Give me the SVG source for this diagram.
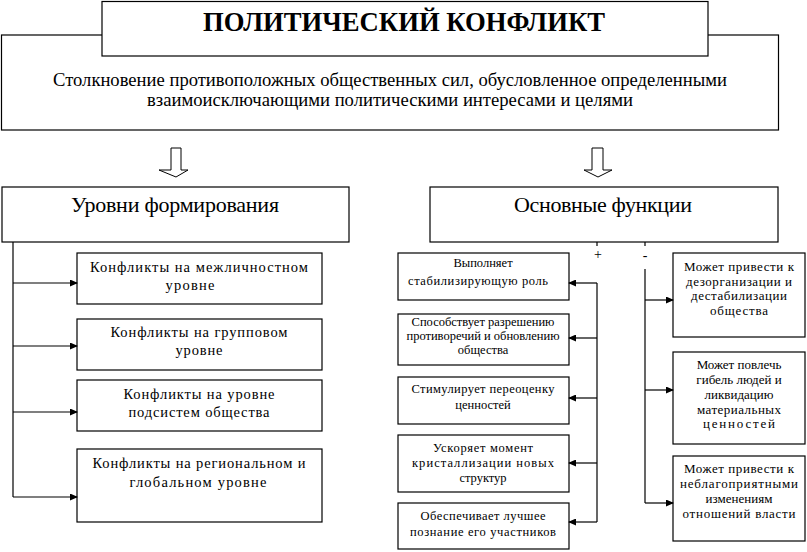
<svg xmlns="http://www.w3.org/2000/svg" width="807" height="552" viewBox="0 0 807 552">
<defs>
<style>
.box{fill:#fff;stroke:#000;stroke-width:1.2}
.t{font-family:"Liberation Serif","Times New Roman","DejaVu Serif",serif;fill:#000;text-anchor:middle}
.title{font-size:28px;font-weight:bold}
.desc{font-size:18px}
.hdr{font-size:22px}
.lv{font-size:14.5px}
.fn{font-size:12.5px}
.ng{font-size:13px}
.sg{font-size:14px}
.ln{fill:none;stroke:#000;stroke-width:1.2}
.blk{fill:#fff;stroke:#000;stroke-width:1}
</style>
<marker id="ah" markerWidth="8" markerHeight="7" refX="7" refY="3.5" orient="auto" markerUnits="userSpaceOnUse">
<path d="M0,0 L8,3.5 L0,7 Z" fill="#000"/>
</marker>
</defs>
<rect width="807" height="552" fill="#fff"/>

<g id="desc">
<rect class="box" x="1.5" y="35" width="777" height="95"/>
<text class="t desc" x="390" y="86" textLength="674" lengthAdjust="spacingAndGlyphs">Столкновение противоположных общественных сил, обусловленное определенными</text>
<text class="t desc" x="390" y="106" textLength="486" lengthAdjust="spacingAndGlyphs">взаимоисключающими политическими интересами и целями</text>
</g>
<g id="title">
<rect class="box" x="102" y="1.5" width="606" height="54.5"/>
<text class="t title" x="404" y="31" textLength="402" lengthAdjust="spacingAndGlyphs">ПОЛИТИЧЕСКИЙ КОНФЛИКТ</text>
</g>

<g id="arrow-left">
<path class="blk" d="M171,148 H181 V170 H188 L176,177 L159,170 H171 Z"/>
</g>
<g id="arrow-right">
<path class="blk" d="M592,148 H603 V170 H612 L598,177 L584,170 H592 Z"/>
</g>

<g id="levels">
<rect class="box" x="2" y="187" width="347" height="55"/>
<text class="t hdr" x="175" y="212" textLength="208">Уровни формирования</text>
</g>
<g id="functions">
<rect class="box" x="430" y="187" width="348" height="55"/>
<text class="t hdr" x="603" y="212" textLength="178">Основные функции</text>
</g>

<g id="lv1">
<rect class="box" x="77" y="253" width="245" height="51"/>
<text class="t lv" x="199" y="272" textLength="218">Конфликты на межличностном</text>
<text class="t lv" x="190" y="290" textLength="49">уровне</text>
</g>
<g id="lv2">
<rect class="box" x="77" y="319" width="245" height="51"/>
<text class="t lv" x="199" y="337" textLength="177">Конфликты на групповом</text>
<text class="t lv" x="199" y="355" textLength="47">уровне</text>
</g>
<g id="lv3">
<rect class="box" x="77" y="380" width="245" height="51"/>
<text class="t lv" x="199" y="399" textLength="151">Конфликты на уровне</text>
<text class="t lv" x="199" y="417" textLength="141">подсистем общества</text>
</g>
<g id="lv4">
<rect class="box" x="77" y="449" width="245" height="73"/>
<text class="t lv" x="199" y="468" textLength="213">Конфликты на региональном и</text>
<text class="t lv" x="198" y="487" textLength="137">глобальном  уровне</text>
</g>

<g id="pf1">
<rect class="box" x="398" y="253" width="171" height="47"/>
<text class="t fn" x="483" y="267">Выполняет</text>
<text class="t fn" x="478" y="285" textLength="140">стабилизирующую роль</text>
</g>
<g id="pf2">
<rect class="box" x="398" y="314" width="171" height="51"/>
<text class="t fn" x="483" y="326">Способствует разрешению</text>
<text class="t fn" x="483" y="340">противоречий и обновлению</text>
<text class="t fn" x="483" y="354">общества</text>
</g>
<g id="pf3">
<rect class="box" x="398" y="377" width="171" height="47"/>
<text class="t fn" x="483" y="393" textLength="143">Стимулирует переоценку</text>
<text class="t fn" x="483" y="409">ценностей</text>
</g>
<g id="pf4">
<rect class="box" x="398" y="435" width="171" height="57"/>
<text class="t fn" x="483" y="452" textLength="100">Ускоряет момент</text>
<text class="t fn" x="483" y="467" textLength="142">кристаллизации новых</text>
<text class="t fn" x="483" y="482">структур</text>
</g>
<g id="pf5">
<rect class="box" x="398" y="503" width="171" height="46"/>
<text class="t fn" x="483" y="520" textLength="125">Обеспечивает лучшее</text>
<text class="t fn" x="483" y="536" textLength="146">познание его участников</text>
</g>

<g id="nf1">
<rect class="box" x="673" y="253" width="132" height="84"/>
<text class="t ng" x="739" y="271" textLength="110">Может привести к</text>
<text class="t ng" x="739" y="286" textLength="106">дезорганизации и</text>
<text class="t ng" x="739" y="300" textLength="96">дестабилизации</text>
<text class="t ng" x="739" y="315" textLength="58">общества</text>
</g>
<g id="nf2">
<rect class="box" x="673" y="352" width="132" height="92"/>
<text class="t ng" x="739" y="369">Может повлечь</text>
<text class="t ng" x="739" y="384">гибель людей и</text>
<text class="t ng" x="739" y="399">ликвидацию</text>
<text class="t ng" x="739" y="414" textLength="84">материальных</text>
<text class="t ng" x="739" y="428" textLength="72">ценностей</text>
</g>
<g id="nf3">
<rect class="box" x="673" y="456" width="132" height="85"/>
<text class="t ng" x="739" y="473" textLength="110">Может привести к</text>
<text class="t ng" x="739" y="488" textLength="118">неблагоприятными</text>
<text class="t ng" x="739" y="503">изменениям</text>
<text class="t ng" x="739" y="518" textLength="113">отношений власти</text>
</g>

<g id="signs">
<text class="t sg" x="598" y="259">+</text>
<text class="t sg" x="645" y="260">-</text>
</g>

<g id="connectors">
<path class="ln" d="M13,242 V497"/>
<path class="ln" d="M13,283 H77" marker-end="url(#ah)"/>
<path class="ln" d="M13,346 H77" marker-end="url(#ah)"/>
<path class="ln" d="M13,412 H77" marker-end="url(#ah)"/>
<path class="ln" d="M13,497 H77" marker-end="url(#ah)"/>
<path class="ln" d="M597,242 V246"/>
<path class="ln" d="M645,242 V246"/>
<path class="ln" d="M597,283 V522"/>
<path class="ln" d="M597,283 H569" marker-end="url(#ah)"/>
<path class="ln" d="M597,338 H569" marker-end="url(#ah)"/>
<path class="ln" d="M597,398 H569" marker-end="url(#ah)"/>
<path class="ln" d="M597,463 H569" marker-end="url(#ah)"/>
<path class="ln" d="M597,522 H569" marker-end="url(#ah)"/>
<path class="ln" d="M645,269 V503"/>
<path class="ln" d="M645,300 H673" marker-end="url(#ah)"/>
<path class="ln" d="M645,390 H673" marker-end="url(#ah)"/>
<path class="ln" d="M645,503 H673" marker-end="url(#ah)"/>
</g>
</svg>
